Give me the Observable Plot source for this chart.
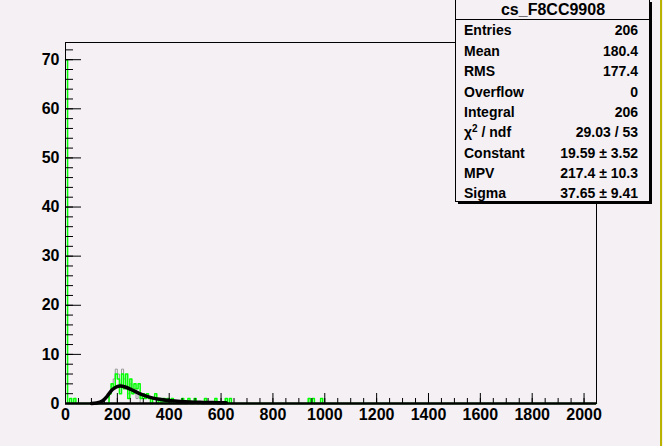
<!DOCTYPE html>
<html><head><meta charset="utf-8">
<script src="https://cdn.jsdelivr.net/npm/d3@7"></script>
<script src="https://cdn.jsdelivr.net/npm/@observablehq/plot@0.6"></script>
<style>
html,body{margin:0;padding:0;background:#f4f0f4;}
#wrap{position:relative;width:663px;height:446px;overflow:hidden;font-family:"Liberation Sans",Arial,sans-serif;font-weight:bold;}
#edge{position:absolute;left:660px;top:0;width:2px;height:446px;background:#bab400;}
</style></head>
<body><div id="wrap"><div id="edge"></div></div>
<script>
// ---- data ----
const binWidth = 8;
const nBins = 256;
const greenEdges  = [0, 16, 32, 168, 176, 184, 192, 200, 208, 216, 224, 232, 240, 248, 256, 264, 272, 280, 288, 296, 304, 312, 320, 336, 344, 360, 376, 392, 408, 448, 472, 496, 536, 576, 616, 632, 936, 952, 984];
const greenCounts = [70, 1, 1, 2, 4, 3, 6, 5, 2, 6, 3, 6, 1, 5, 2, 4, 3, 4, 1, 2, 1, 2, 1, 1, 2, 1, 1, 1, 1, 1, 1, 1, 1, 1, 1, 1, 1, 1, 1];
const greyEdges  = [160, 168, 176, 184, 192, 200, 208, 216, 224, 232, 240, 248, 256, 264, 272, 280, 288];
const greyCounts = [0, 2, 4, 5, 7, 6, 4, 7, 5, 3, 2, 4, 2, 3, 1, 2, 0];
const fitX = [100, 120, 142, 161, 180, 199, 212, 230, 255, 293, 330, 368, 406, 443, 481, 519, 557, 594, 620];
const fitY = [0, 0.1, 0.5, 1.5, 2.8, 3.45, 3.55, 3.35, 2.8, 1.85, 1.2, 0.8, 0.55, 0.4, 0.3, 0.24, 0.2, 0.16, 0.14];
const xTicks = [0, 200, 400, 600, 800, 1000, 1200, 1400, 1600, 1800, 2000];
const yTicks = [0, 10, 20, 30, 40, 50, 60, 70];
const xMinor = d3.range(0, 2049, 50);
const yMinor = d3.range(0, 74, 2);
const statsTitle = "cs_F8CC9908";
const statsLabels = ["Entries", "Mean", "RMS", "Overflow", "Integral", "χ² / ndf", "Constant", "MPV", "Sigma"];
const statsValues = ["206", "180.4", "177.4", "0", "206", "29.03 / 53", "19.59 ± 3.52", "217.4 ± 10.3", "37.65 ± 9.41"];

// ---- build step tables ----
function fullSteps(edges, counts) {
  const m = new Map(edges.map((e, i) => [e, counts[i]]));
  const pts = [];
  for (let i = 0; i < nBins; i++) { const x = i * binWidth; pts.push({x, y: m.get(x) ?? 0}); }
  pts.push({x: nBins * binWidth, y: 0});
  return pts;
}
const greenPts = fullSteps(greenEdges, greenCounts);
const greyPts = greyEdges.map((e, i) => ({x: e, y: greyCounts[i]}));
const fit = fitX.map((x, i) => ({x, y: fitY[i]}));
const plain = d3.format("d");

const plot = Plot.plot({
  width: 663, height: 446,
  marginLeft: 65, marginRight: 67, marginTop: 42, marginBottom: 43,
  style: {background: "transparent", fontFamily: "'Liberation Sans', Arial, sans-serif", fontWeight: "bold", fontSize: "16px", color: "#000"},
  x: {domain: [0, 2048], label: null},
  y: {domain: [0, 73.5], label: null},
  marks: [
    Plot.line(greyPts, {x: "x", y: "y", curve: "step-after", stroke: "#9a9a9a", strokeWidth: 1}),
    Plot.line(greenPts, {x: "x", y: "y", curve: "step-after", stroke: "#00ff00", strokeWidth: 1.5}),
    Plot.line(fit, {x: "x", y: "y", curve: "catmull-rom", stroke: "#000", strokeWidth: 3.5}),
    Plot.frame({stroke: "#000", strokeWidth: 1}),
    Plot.ruleY([0], {stroke: "#000", strokeWidth: 2.5}),
    Plot.axisX(xTicks, {tickSize: -10, tickFormat: () => "", label: null}),
    Plot.axisX(xMinor, {tickSize: -5, tickFormat: () => "", label: null}),
    Plot.axisX(xTicks, {tickSize: 0, tickPadding: 5, tickFormat: plain, label: null}),
    Plot.axisY(yTicks, {tickSize: -16, tickFormat: () => "", label: null}),
    Plot.axisY(yMinor, {tickSize: -8, tickFormat: () => "", label: null}),
    Plot.axisY(yTicks, {tickSize: 0, tickPadding: 6, tickFormat: plain, label: null})
  ]
});
const wrap = document.getElementById("wrap");
wrap.insertBefore(plot, wrap.firstChild);

// ---- stats box ----
const sv = d3.select(wrap).append("svg").attr("width", 198).attr("height", 206)
  .style("position", "absolute").style("left", "455px").style("top", "-1px");
sv.append("rect").attr("x", 3).attr("y", 3).attr("width", 194).attr("height", 202).attr("fill", "#000");
sv.append("rect").attr("x", 0.5).attr("y", 0.5).attr("width", 194).attr("height", 202).attr("fill", "#f4f0f4").attr("stroke", "#000");
sv.append("line").attr("x1", 0).attr("x2", 195).attr("y1", 20.5).attr("y2", 20.5).attr("stroke", "#000");
sv.append("text").attr("x", 98).attr("y", 16).attr("text-anchor", "middle")
  .style("font", "bold 16px 'Liberation Sans', Arial, sans-serif").text(statsTitle);
const base = [36, 57, 77, 98, 118, 138, 159, 179, 199];
statsLabels.forEach((l, i) => {
  const t = sv.append("text").attr("x", 9).attr("y", base[i]).style("font", "bold 14px 'Liberation Sans', Arial, sans-serif");
  if (l.startsWith("χ")) { t.append("tspan").text("χ"); t.append("tspan").attr("dy", -5).style("font-size", "10px").text("2"); t.append("tspan").attr("dy", 5).text(" / ndf"); }
  else t.text(l);
  sv.append("text").attr("x", 183).attr("y", base[i]).attr("text-anchor", "end")
    .style("font", "bold 14px 'Liberation Sans', Arial, sans-serif").text(statsValues[i]);
});
</script>
</body></html>
